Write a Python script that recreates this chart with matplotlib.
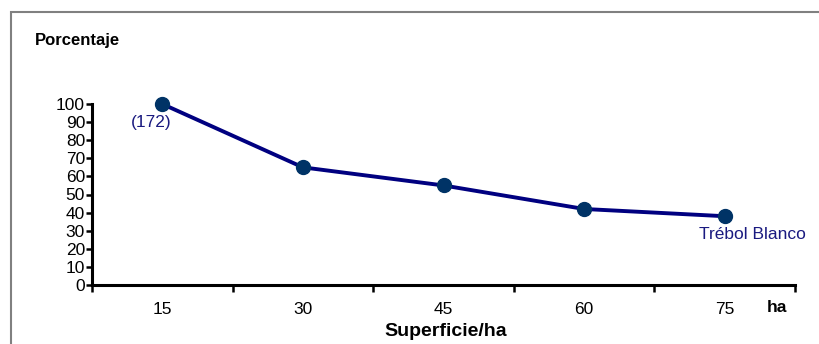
import matplotlib
matplotlib.use("Agg")
import matplotlib.pyplot as plt
from matplotlib.patches import Rectangle

categories = ["15", "30", "45", "60", "75"]
values = [100, 65, 55, 42, 38]
yticks = list(range(0, 101, 10))

plt.rcParams['font.family'] = ['Liberation Sans', 'DejaVu Sans']

fig = plt.figure(figsize=(8.19, 3.44), dpi=100)
fig.patches.append(Rectangle((11/819, -0.1), 1.2, 1.1 - 12/344, transform=fig.transFigure,
                             fill=False, edgecolor='#808080', lw=1.5))
ax = fig.add_axes([92/819, 1-285/344, (795-92)/819, (285-104)/344])

x = list(range(len(categories)))
ax.plot(x, values, color='#000080', lw=2.8, marker='o', markersize=10,
        markerfacecolor='#003366', markeredgecolor='#003366', clip_on=False, zorder=3)

ax.set_xlim(-0.5, len(categories) - 0.5)
ax.set_ylim(0, 100)
ax.set_xticks(x)
ax.set_xticklabels(categories, fontsize=12.5)
ax.set_xticks([i - 0.5 for i in range(len(categories) + 1)], minor=True)
ax.tick_params(axis='x', which='major', length=0, pad=12)
ax.tick_params(axis='x', which='minor', length=5, width=1.8, direction='out')
ax.set_yticks(yticks)
ax.set_yticklabels([str(v) for v in yticks], fontsize=12.5)
ax.tick_params(axis='y', length=4, width=1.8, pad=1)
for s in ['top', 'right']:
    ax.spines[s].set_visible(False)
for s in ['left', 'bottom']:
    ax.spines[s].set_linewidth(2.2)

fig.text(35/819, 1-40/344, "Porcentaje", fontsize=12, fontweight='bold', va='center', ha='left')
fig.text(446/819, 1-332/344, "Superficie/ha", fontsize=14, fontweight='bold', va='center', ha='center')
fig.text(777/819, 1-307/344, "ha", fontsize=12.5, fontweight='bold', va='center', ha='center')
ax.annotate("(172)", (0, values[0]), xytext=(-8, -13), textcoords='offset points',
            color='#1a1a80', fontsize=12.5, ha='center', va='center')
ax.annotate("Trébol Blanco", (4, values[-1]), xytext=(20, -13), textcoords='offset points',
            color='#1a1a80', fontsize=12.5, ha='center', va='center')

fig.savefig("out.png", dpi=100)
